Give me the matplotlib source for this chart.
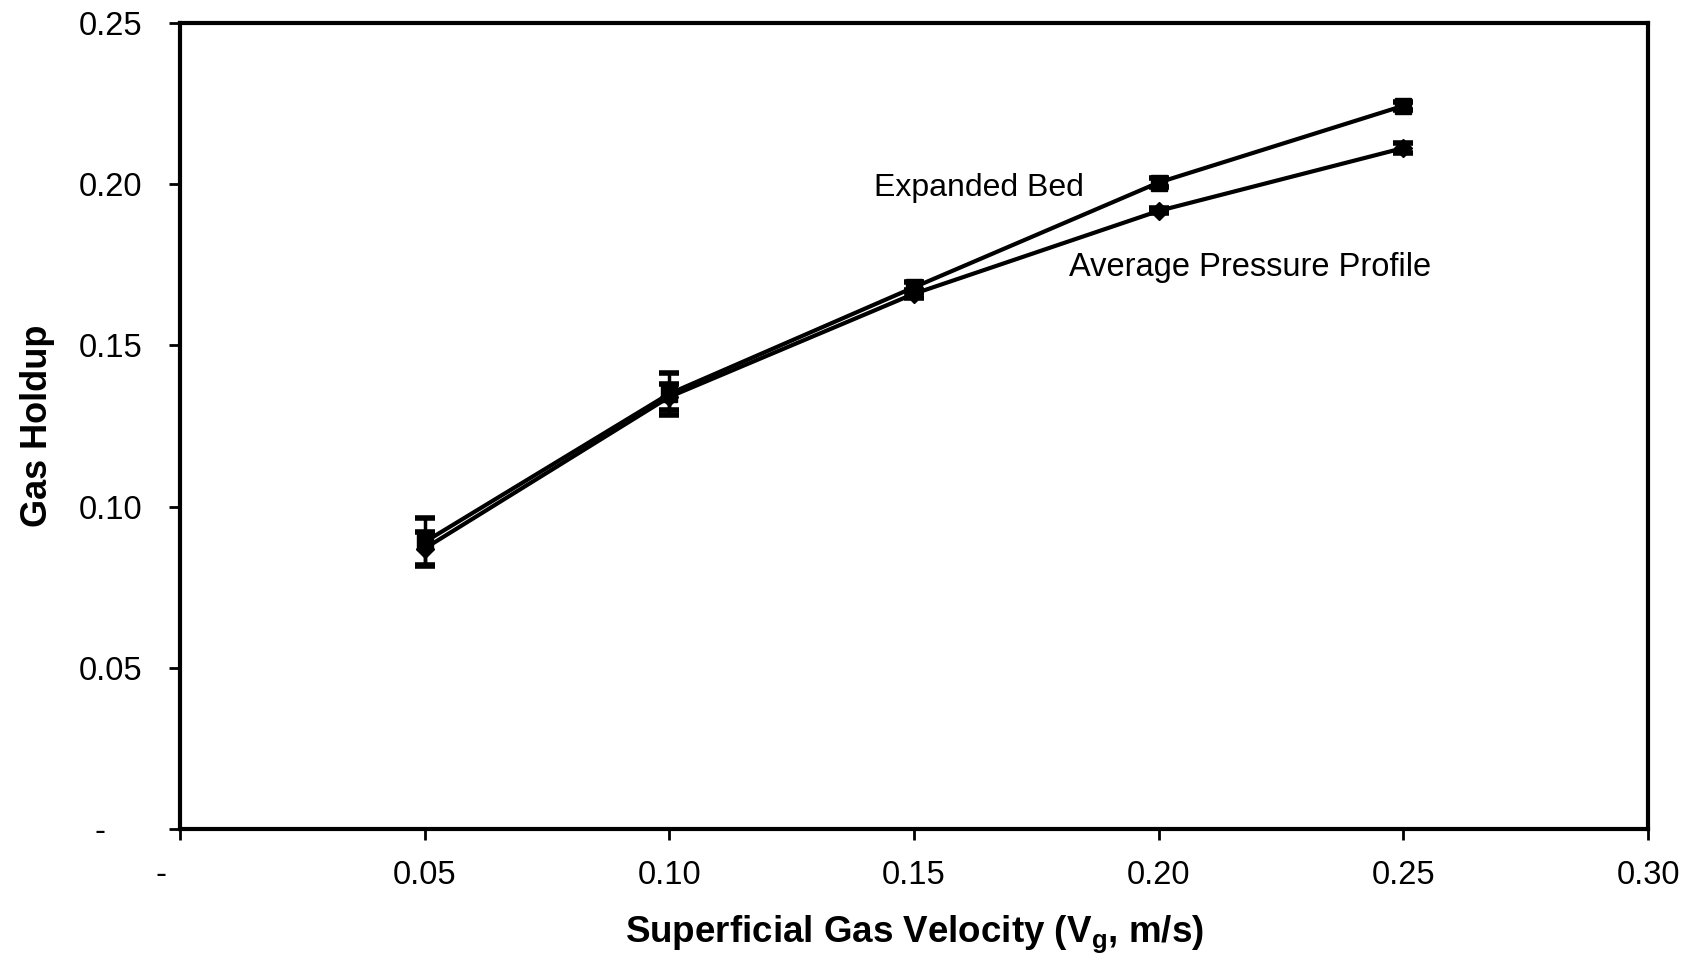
import matplotlib
matplotlib.use("Agg")
import matplotlib.pyplot as plt

plt.rcParams['font.family'] = ['Liberation Sans', 'DejaVu Sans']

velocity = [0.05, 0.10, 0.15, 0.20, 0.25]
expanded_bed = [0.089, 0.135, 0.168, 0.2005, 0.2243]
expanded_err = [0.0075, 0.0065, 0.0015, 0.0015, 0.0012]
avg_pressure = [0.087, 0.134, 0.166, 0.1917, 0.2112]
avg_err = [0.005, 0.004, 0.0012, 0.0008, 0.0015]

xticks = [0.0, 0.05, 0.10, 0.15, 0.20, 0.25, 0.30]
xticklabels = ['-    ', '0.05', '0.10', '0.15', '0.20', '0.25', '0.30']
yticks = [0.0, 0.05, 0.10, 0.15, 0.20, 0.25]
yticklabels = ['-    ', '0.05', '0.10', '0.15', '0.20', '0.25']

fig = plt.figure(figsize=(16.96, 9.55), dpi=100)
ax = fig.add_axes([0.1061, 0.1319, 0.8656, 0.8441])

ax.errorbar(velocity, expanded_bed, yerr=expanded_err, color='black', lw=3,
            marker='s', ms=11, capsize=7, capthick=4, elinewidth=2.5)
ax.errorbar(velocity, avg_pressure, yerr=avg_err, color='black', lw=3,
            marker='D', ms=9, capsize=7, capthick=4, elinewidth=2.5)

ax.text(0.1418, 0.1988, 'Expanded Bed', fontsize=23, va='center', ha='left')
ax.text(0.1817, 0.1743, 'Average Pressure Profile', fontsize=23.5, va='center', ha='left')

ax.set_xlim(0, 0.30)
ax.set_ylim(0, 0.25)
ax.set_xticks(xticks)
ax.set_xticklabels(xticklabels)
ax.set_yticks(yticks)
ax.set_yticklabels(yticklabels)
ax.tick_params(axis='both', labelsize=23.5, direction='out', length=8, width=2)
ax.tick_params(axis='y', pad=19)
ax.tick_params(axis='x', pad=14)
for s in ax.spines.values():
    s.set_linewidth(3)

ax.set_xlabel('Superficial Gas Velocity (V$_\\mathregular{g}$, m/s)', fontsize=26.5,
              fontweight='bold', labelpad=16)
ax.set_ylabel('Gas Holdup', fontsize=26, fontweight='bold', labelpad=17)

fig.savefig('out.png', dpi=100, facecolor='white')
